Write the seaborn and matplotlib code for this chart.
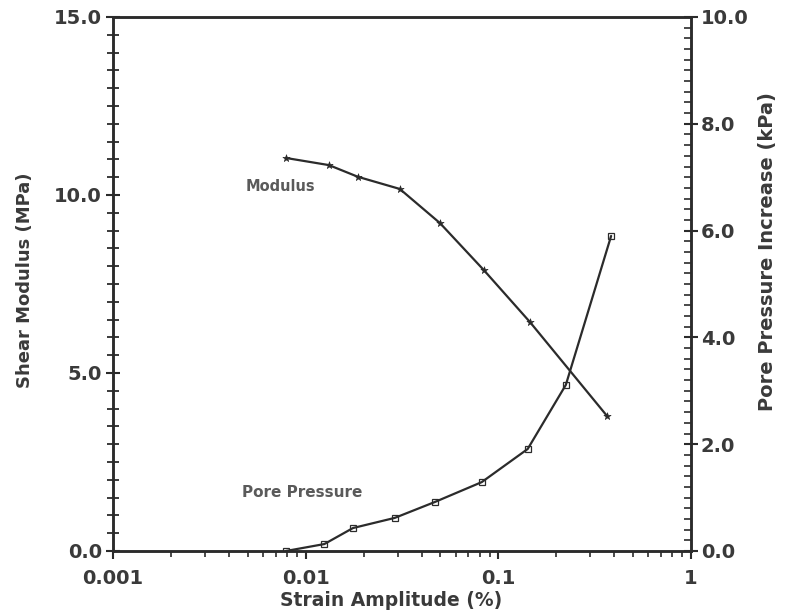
import matplotlib
matplotlib.use("Agg")
import matplotlib.pyplot as plt
import seaborn as sns
import pandas as pd
import numpy as np
from matplotlib.ticker import FixedLocator, MultipleLocator, LogLocator, NullFormatter, FixedFormatter

# ---- data ----
mod_strain = [0.0079, 0.0132, 0.0187, 0.0308, 0.0498, 0.0841, 0.146, 0.367]
mod_values = [11.04, 10.84, 10.51, 10.17, 9.21, 7.89, 6.43, 3.79]

pp_strain = [0.0079, 0.0125, 0.0176, 0.029, 0.047, 0.082, 0.142, 0.224, 0.385]
pp_values = [0.0, 0.13, 0.43, 0.62, 0.92, 1.29, 1.91, 3.11, 5.90]

x_ticks = [0.001, 0.01, 0.1, 1]
x_tick_labels = ["0.001", "0.01", "0.1", "1"]
left_ticks = [0, 5, 10, 15]
left_tick_labels = ["0.0", "5.0", "10.0", "15.0"]
right_ticks = [0, 2, 4, 6, 8, 10]
right_tick_labels = ["0.0", "2.0", "4.0", "6.0", "8.0", "10.0"]

mod_df = pd.DataFrame({"strain": mod_strain, "G": mod_values})
pp_df = pd.DataFrame({"strain": pp_strain, "u": pp_values})

sns.set_theme(style="white")
plt.rcParams["font.family"] = ["DejaVu Sans"]
ink = "#2b2b2b"
txt = "#3a3a3a"

fig = plt.figure(figsize=(7.89, 6.13), dpi=100)
ax = fig.add_axes([113/789, 1-551/613, (691-113)/789, (551-17)/613])
ax2 = ax.twinx()

sns.lineplot(data=mod_df, x="strain", y="G", ax=ax, color=ink, lw=1.6, sort=True)
sns.scatterplot(data=mod_df, x="strain", y="G", ax=ax, marker="*", s=30, color=ink, edgecolor=ink, zorder=5)
sns.lineplot(data=pp_df, x="strain", y="u", ax=ax2, color=ink, lw=1.6, sort=True)
ax2.plot(pp_strain, pp_values, ls="none", marker="s", ms=4, mfc="none", mec=ink, mew=0.9, zorder=5)

ax.set_xscale("log")
ax.set_xlim(0.001, 1)
ax.set_ylim(0, 15)
ax2.set_ylim(0, 10)

ax.xaxis.set_major_locator(FixedLocator(x_ticks))
ax.xaxis.set_major_formatter(FixedFormatter(x_tick_labels))
ax.xaxis.set_minor_locator(LogLocator(base=10, subs=np.arange(2, 10)))
ax.xaxis.set_minor_formatter(NullFormatter())

ax.yaxis.set_major_locator(FixedLocator(left_ticks))
ax.yaxis.set_major_formatter(FixedFormatter(left_tick_labels))
ax.yaxis.set_minor_locator(MultipleLocator(0.5))
ax2.yaxis.set_major_locator(FixedLocator(right_ticks))
ax2.yaxis.set_major_formatter(FixedFormatter(right_tick_labels))
ax2.yaxis.set_minor_locator(MultipleLocator(0.2))

for a in (ax, ax2):
    for s in a.spines.values():
        s.set_color(ink)
        s.set_linewidth(1.8)

ax.tick_params(axis="x", which="major", direction="out", length=6, width=1.5, color=ink,
               labelsize=14, labelcolor=txt, pad=7, bottom=True)
ax.tick_params(axis="x", which="minor", direction="out", length=4, width=1.2, color=ink, bottom=True)
ax.tick_params(axis="y", which="major", direction="inout", length=10, width=1.5, color=ink,
               labelsize=14, labelcolor=txt, pad=3, left=True)
ax.tick_params(axis="y", which="minor", direction="inout", length=8, width=1.3, color=ink, left=True)
ax2.tick_params(axis="y", which="major", direction="inout", length=10, width=1.5, color=ink,
                labelsize=14, labelcolor=txt, pad=2, right=True)
ax2.tick_params(axis="y", which="minor", direction="in", length=5, width=1.2, color=ink, right=True)

for lab in ax.get_xticklabels() + ax.get_yticklabels() + ax2.get_yticklabels():
    lab.set_fontweight("bold")

ax.set_xlabel("Strain Amplitude (%)", fontsize=13.5, fontweight="bold", color=txt)
ax.xaxis.set_label_coords((391-113)/578, -(601-551)/534, transform=ax.transAxes)
ax.set_ylabel("Shear Modulus (MPa)", fontsize=13, fontweight="bold", color=txt)
ax.yaxis.set_label_coords(-(113-25)/578, (551-280)/534, transform=ax.transAxes)
ax.yaxis.label.set_va("center")
ax2.set_ylabel("Pore Pressure Increase (kPa)", fontsize=14, fontweight="bold", color=txt)
ax2.yaxis.set_label_coords(1+(768-691)/578, (551-252)/534, transform=ax.transAxes)
ax2.yaxis.label.set_va("center")
ax.xaxis.label.set_va("center")

ax.text(0.0049, 10.25, "Modulus", fontsize=10.5, fontweight="bold", color="#5a5a5a", va="center", ha="left")
ax.text(0.0047, 1.63, "Pore Pressure", fontsize=11, fontweight="bold", color="#5a5a5a", va="center", ha="left")

fig.savefig("out.png", dpi=100)
